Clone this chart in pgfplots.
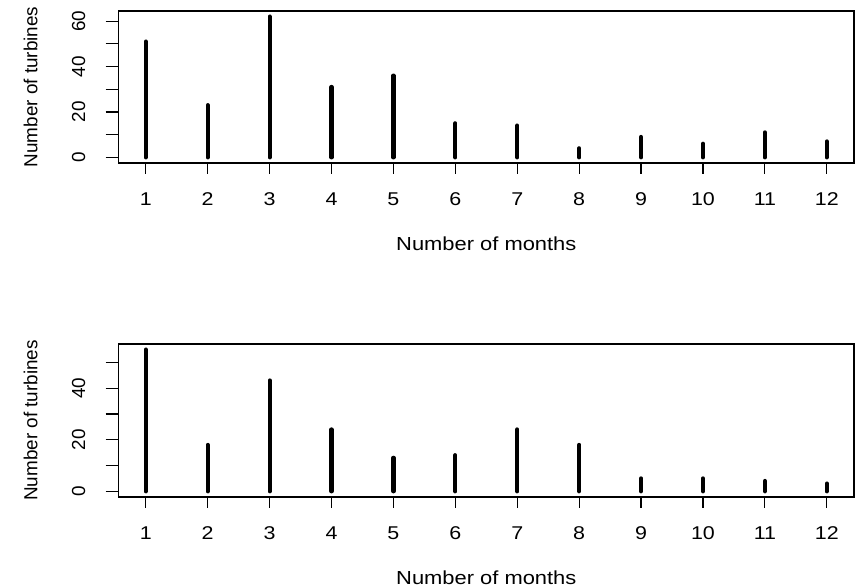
\documentclass[border=0pt]{standalone}
\usepackage{pgfplots}
\pgfplotsset{compat=1.18}
\usepackage{fontspec}
\setmainfont{Liberation Sans}
\newfontfamily\hfont[FakeStretch=1.16]{Liberation Sans}
\begin{document}
\fontsize{9.5bp}{11bp}\selectfont
\pgfplotsset{
  rstyle/.style={
    scale only axis,
    width=370bp,
    xmin=0.56, xmax=12.44,
    xtick={1,2,3,4,5,6,7,8,9,10,11,12},
    tick align=outside,
    xtick pos=lower, ytick pos=left,
    major tick length=5.5bp,
    xtick style={black, line width=0.6bp},
    ytick style={black, line width=0.6bp, /pgfplots/major tick length=6.5bp},
    axis line style={black, line width=0.8bp},
    /pgf/number format/assume math mode=true,
    xticklabel style={font=\hfont\fontsize{9.3bp}{11bp}\selectfont, anchor=north, inner sep=0pt, text height=6.7bp, text depth=0pt},
    xticklabel shift=9bp,
    yticklabel style={font=\fontsize{9.5bp}{11bp}\selectfont, rotate=90, anchor=south, inner sep=0pt},
    yticklabel shift=11bp,
    xlabel={Number of months},
    ylabel={Number of turbines},
    xlabel style={font=\hfont\fontsize{9.5bp}{11bp}\selectfont, at={(axis description cs:0.5,0)}, anchor=north, inner sep=0pt, yshift=-37bp},
    ylabel style={font=\fontsize{9.5bp}{11bp}\selectfont, at={(axis description cs:-0.1095,0.5)}, anchor=south, inner sep=0pt},
  },
  rbar/.style={ycomb, black, line width=2.1bp, line cap=round, mark=none},
}
\begin{tikzpicture}
\useasboundingbox (0,0) rectangle (429bp,-295.5bp);
\begin{axis}[rstyle, at={(57bp,-82bp)}, anchor=south west,
  height=76.5bp, ymin=-2.48, ymax=64.48,
  ytick={0,10,20,30,40,50,60}, yticklabels={0,,20,,40,,60}]
\addplot[rbar] coordinates {(1,51) (2,23) (3,62) (4,31) (5,36) (6,15) (7,14) (8,4) (9,9) (10,6) (11,11) (12,7)};
\end{axis}
\begin{axis}[rstyle, at={(57bp,-250bp)}, anchor=south west,
  height=77bp, ymin=-2.2, ymax=57.2,
  ytick={0,10,20,30,40,50}, yticklabels={0,,20,,40,}]
\addplot[rbar] coordinates {(1,55) (2,18) (3,43) (4,24) (5,13) (6,14) (7,24) (8,18) (9,5) (10,5) (11,4) (12,3)};
\end{axis}
\end{tikzpicture}
\end{document}
